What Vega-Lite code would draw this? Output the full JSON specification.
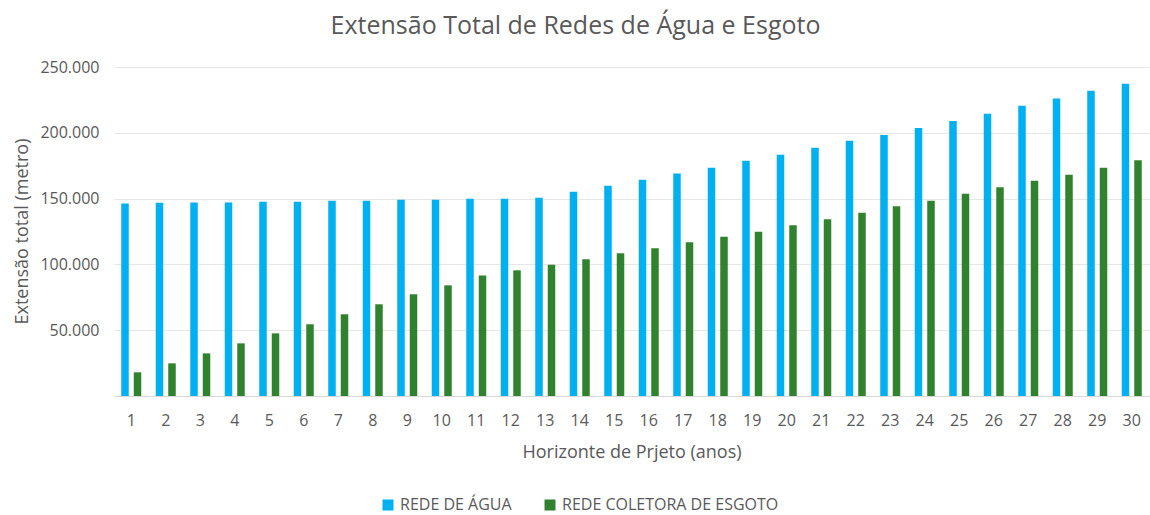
{
  "$schema": "https://vega.github.io/schema/vega-lite/v6.json",
  "autosize": {"type": "none"},
  "width": 1035,
  "height": 329,
  "padding": {"left": 114, "top": 67, "right": 1, "bottom": 119},
  "background": "white",
  "title": {
    "text": "Extensão Total de Redes de Água e Esgoto",
    "font": "Open Sans",
    "fontSize": 25,
    "fontWeight": "normal",
    "color": "#595959",
    "anchor": "middle",
    "frame": "group",
    "dx": -56,
    "offset": 20
  },
  "data": {
    "values": [
      {"ano": 1, "serie": "REDE DE ÁGUA", "valor": 146200},
      {"ano": 2, "serie": "REDE DE ÁGUA", "valor": 146900},
      {"ano": 3, "serie": "REDE DE ÁGUA", "valor": 147000},
      {"ano": 4, "serie": "REDE DE ÁGUA", "valor": 147000},
      {"ano": 5, "serie": "REDE DE ÁGUA", "valor": 147700},
      {"ano": 6, "serie": "REDE DE ÁGUA", "valor": 147700},
      {"ano": 7, "serie": "REDE DE ÁGUA", "valor": 148400},
      {"ano": 8, "serie": "REDE DE ÁGUA", "valor": 148400},
      {"ano": 9, "serie": "REDE DE ÁGUA", "valor": 149200},
      {"ano": 10, "serie": "REDE DE ÁGUA", "valor": 149200},
      {"ano": 11, "serie": "REDE DE ÁGUA", "valor": 149900},
      {"ano": 12, "serie": "REDE DE ÁGUA", "valor": 149900},
      {"ano": 13, "serie": "REDE DE ÁGUA", "valor": 150700},
      {"ano": 14, "serie": "REDE DE ÁGUA", "valor": 155300},
      {"ano": 15, "serie": "REDE DE ÁGUA", "valor": 159800},
      {"ano": 16, "serie": "REDE DE ÁGUA", "valor": 164400},
      {"ano": 17, "serie": "REDE DE ÁGUA", "valor": 169000},
      {"ano": 18, "serie": "REDE DE ÁGUA", "valor": 173500},
      {"ano": 19, "serie": "REDE DE ÁGUA", "valor": 178800},
      {"ano": 20, "serie": "REDE DE ÁGUA", "valor": 183400},
      {"ano": 21, "serie": "REDE DE ÁGUA", "valor": 188700},
      {"ano": 22, "serie": "REDE DE ÁGUA", "valor": 194000},
      {"ano": 23, "serie": "REDE DE ÁGUA", "valor": 198400},
      {"ano": 24, "serie": "REDE DE ÁGUA", "valor": 203700},
      {"ano": 25, "serie": "REDE DE ÁGUA", "valor": 209000},
      {"ano": 26, "serie": "REDE DE ÁGUA", "valor": 214500},
      {"ano": 27, "serie": "REDE DE ÁGUA", "valor": 220600},
      {"ano": 28, "serie": "REDE DE ÁGUA", "valor": 226000},
      {"ano": 29, "serie": "REDE DE ÁGUA", "valor": 232000},
      {"ano": 30, "serie": "REDE DE ÁGUA", "valor": 237300},
      {"ano": 1, "serie": "REDE COLETORA DE ESGOTO", "valor": 18000},
      {"ano": 2, "serie": "REDE COLETORA DE ESGOTO", "valor": 24800},
      {"ano": 3, "serie": "REDE COLETORA DE ESGOTO", "valor": 32400},
      {"ano": 4, "serie": "REDE COLETORA DE ESGOTO", "valor": 40000},
      {"ano": 5, "serie": "REDE COLETORA DE ESGOTO", "valor": 47600},
      {"ano": 6, "serie": "REDE COLETORA DE ESGOTO", "valor": 54500},
      {"ano": 7, "serie": "REDE COLETORA DE ESGOTO", "valor": 62100},
      {"ano": 8, "serie": "REDE COLETORA DE ESGOTO", "valor": 69700},
      {"ano": 9, "serie": "REDE COLETORA DE ESGOTO", "valor": 77300},
      {"ano": 10, "serie": "REDE COLETORA DE ESGOTO", "valor": 84100},
      {"ano": 11, "serie": "REDE COLETORA DE ESGOTO", "valor": 91500},
      {"ano": 12, "serie": "REDE COLETORA DE ESGOTO", "valor": 95500},
      {"ano": 13, "serie": "REDE COLETORA DE ESGOTO", "valor": 99800},
      {"ano": 14, "serie": "REDE COLETORA DE ESGOTO", "valor": 103900},
      {"ano": 15, "serie": "REDE COLETORA DE ESGOTO", "valor": 108400},
      {"ano": 16, "serie": "REDE COLETORA DE ESGOTO", "valor": 112200},
      {"ano": 17, "serie": "REDE COLETORA DE ESGOTO", "valor": 116800},
      {"ano": 18, "serie": "REDE COLETORA DE ESGOTO", "valor": 121100},
      {"ano": 19, "serie": "REDE COLETORA DE ESGOTO", "valor": 124900},
      {"ano": 20, "serie": "REDE COLETORA DE ESGOTO", "valor": 129700},
      {"ano": 21, "serie": "REDE COLETORA DE ESGOTO", "valor": 134300},
      {"ano": 22, "serie": "REDE COLETORA DE ESGOTO", "valor": 139300},
      {"ano": 23, "serie": "REDE COLETORA DE ESGOTO", "valor": 144200},
      {"ano": 24, "serie": "REDE COLETORA DE ESGOTO", "valor": 148400},
      {"ano": 25, "serie": "REDE COLETORA DE ESGOTO", "valor": 153700},
      {"ano": 26, "serie": "REDE COLETORA DE ESGOTO", "valor": 158600},
      {"ano": 27, "serie": "REDE COLETORA DE ESGOTO", "valor": 163600},
      {"ano": 28, "serie": "REDE COLETORA DE ESGOTO", "valor": 168200},
      {"ano": 29, "serie": "REDE COLETORA DE ESGOTO", "valor": 173500},
      {"ano": 30, "serie": "REDE COLETORA DE ESGOTO", "valor": 179100}
    ]
  },
  "mark": {"type": "bar"},
  "encoding": {
    "x": {
      "field": "ano",
      "type": "ordinal",
      "scale": {"paddingInner": 0.42, "paddingOuter": 0.21},
      "axis": {
        "title": "Horizonte de Prjeto (anos)",
        "labelAngle": 0,
        "ticks": false,
        "domainColor": "#D9D9D9",
        "labelPadding": 16,
        "titleY": 56,
        "titleBaseline": "middle"
      }
    },
    "xOffset": {
      "field": "serie",
      "type": "nominal",
      "sort": ["REDE DE ÁGUA", "REDE COLETORA DE ESGOTO"],
      "scale": {"paddingInner": 0.4}
    },
    "y": {
      "field": "valor",
      "type": "quantitative",
      "scale": {"domain": [0, 250000]},
      "axis": {
        "title": "Extensão total (metro)",
        "values": [0, 50000, 100000, 150000, 200000, 250000],
        "labelExpr": "datum.value == 0 ? '' : replace(format(datum.value, ','), ',', '.')",
        "domain": false,
        "ticks": false,
        "gridColor": "#E6E6E6",
        "labelPadding": 15,
        "titleX": -87,
        "titleY": 164,
        "titleBaseline": "alphabetic"
      }
    },
    "color": {
      "field": "serie",
      "type": "nominal",
      "sort": ["REDE DE ÁGUA", "REDE COLETORA DE ESGOTO"],
      "scale": {"domain": ["REDE DE ÁGUA", "REDE COLETORA DE ESGOTO"], "range": ["#00B0F0", "#31822F"]},
      "legend": {
        "orient": "none",
        "legendX": 266,
        "legendY": 430,
        "direction": "horizontal",
        "title": null,
        "symbolType": "square",
        "symbolSize": 121,
        "symbolStrokeWidth": 0,
        "labelFontSize": 16,
        "labelColor": "#595959",
        "labelFont": "Open Sans",
        "labelLimit": 0,
        "columnPadding": 30,
        "labelOffset": 4
      }
    }
  },
  "config": {
    "view": {"stroke": null},
    "axis": {
      "labelFont": "Open Sans",
      "titleFont": "Open Sans",
      "labelFontSize": 16,
      "titleFontSize": 18,
      "titleFontWeight": "normal",
      "labelColor": "#595959",
      "titleColor": "#595959"
    }
  }
}
